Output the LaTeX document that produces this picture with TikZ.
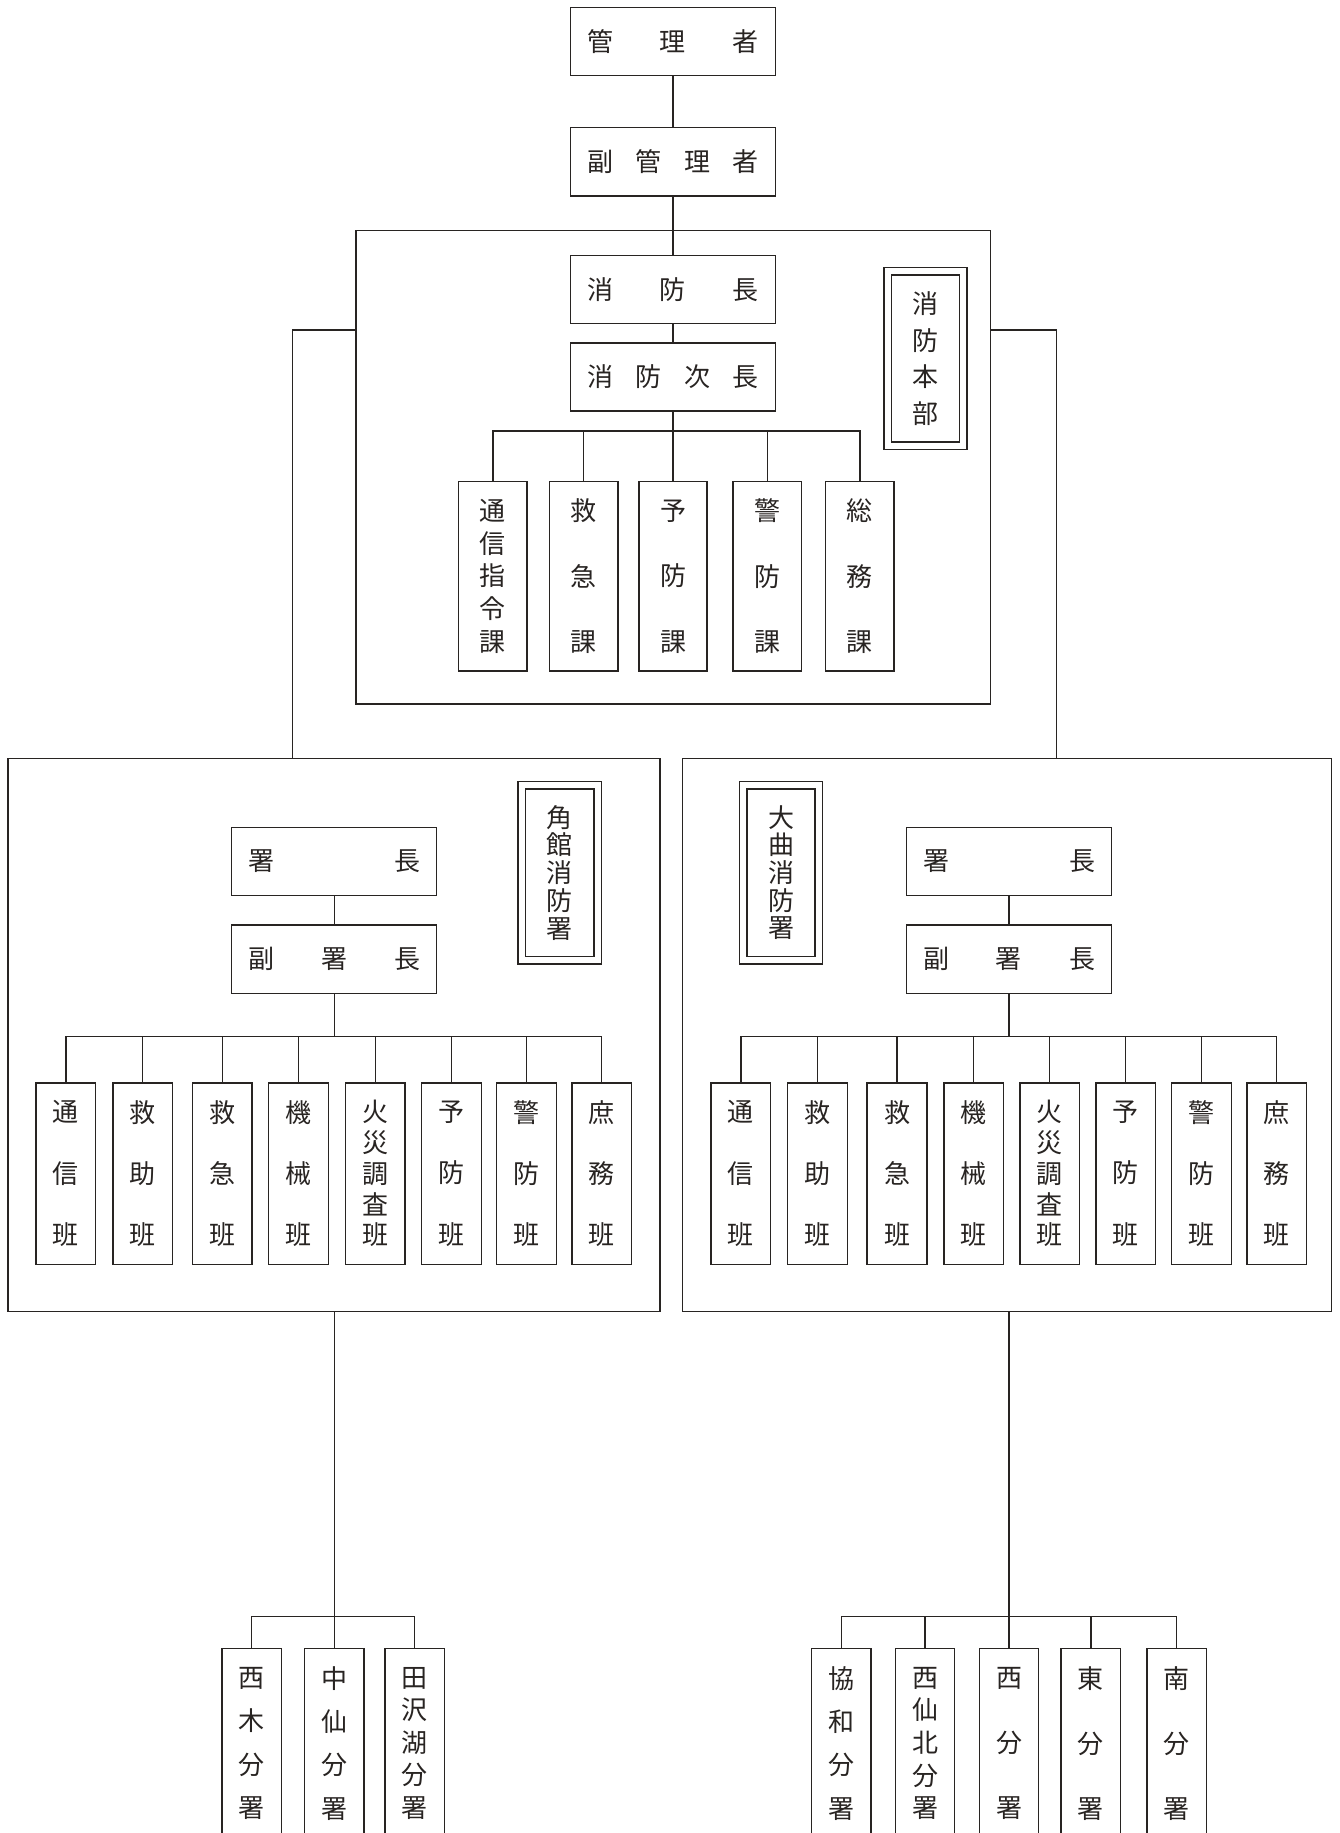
\documentclass[tikz,border=0pt]{standalone}
\usepackage{fontspec}
\setmainfont{Noto Sans CJK JP}
\definecolor{ink}{RGB}{40,36,34}
\def\vt#1#2{\vbox{\baselineskip=#1\lineskiplimit=-1000pt\lineskip=0pt\vtloop#2\relax}}
\def\vtloop#1{\ifx#1\relax\else\hbox{#1}\expandafter\vtloop\fi}
\begin{document}
\begin{tikzpicture}[x=1pt,y=-1pt,line width=1.4pt,color=ink,
  frame/.style={draw,rectangle,inner sep=0pt},
  hbx/.style={draw,rectangle,inner sep=0pt,minimum width=205pt,minimum height=68pt,font=\fontsize{26}{30}\selectfont},
  kabx/.style={draw,rectangle,inner sep=0pt,minimum width=68.2pt,minimum height=189.4pt,font=\fontsize{26}{30}\selectfont},
  hanbx/.style={draw,rectangle,inner sep=0pt,minimum width=59.8pt,minimum height=181.2pt,font=\fontsize{26}{30}\selectfont},
  botbx/.style={draw,rectangle,inner sep=0pt,minimum width=59.5pt,minimum height=189.3pt,font=\fontsize{26}{30}\selectfont},
  lbl/.style={draw,rectangle,double,double distance=6pt,inner sep=0pt,font=\fontsize{26}{30}\selectfont}]
\clip (0,0) rectangle (1339,1833);
\fill[white] (0,0) rectangle (1339,1833);
% top
\node[hbx] (kanri) at (673,41.4) {\hbox to 172pt{管\hfil 理\hfil 者}};
\node[hbx] (fuku) at (673,161.8) {\hbox to 172pt{副\hfil 管\hfil 理\hfil 者}};
\node[frame,minimum width=634.6pt,minimum height=473.3pt] (honbu) at (673.3,467.35) {};
\node[hbx] (chou) at (673,289.5) {\hbox to 172pt{消\hfil 防\hfil 長}};
\node[hbx] (jichou) at (673,376.8) {\hbox to 172pt{消\hfil 防\hfil 次\hfil 長}};
\node[kabx] (k1) at (492.8,576.3) {\vt{32.75pt}{通信指令課}};
\node[kabx] (k2) at (583.7,576.3) {\vt{65.5pt}{救急課}};
\node[kabx] (k3) at (673,576.3) {\vt{65.5pt}{予防課}};
\node[kabx] (k4) at (767.2,576.3) {\vt{65.5pt}{警防課}};
\node[kabx] (k5) at (859.8,576.3) {\vt{65.5pt}{総務課}};
\node[lbl,minimum width=75.8pt,minimum height=174.6pt] (honbulbl) at (925.4,358.4) {\vt{36.5pt}{消防本部}};
\draw (kanri) -- (fuku);
\draw (fuku) -- (chou);
\draw (chou) -- (jichou);
\draw (jichou) -- (k3);
\coordinate (kb) at (0,431.1);
\draw (k1.north) -- (k1.north |- kb) -- (k5.north |- kb) -- (k5.north);
\draw (k2.north) -- (k2.north |- kb);
\draw (k4.north) -- (k4.north |- kb);
% station boxes
\node[frame,minimum width=652pt,minimum height=553pt] (kaku) at (333.8,1035) {};
\node[frame,minimum width=648.5pt,minimum height=553pt] (oma) at (1007,1035) {};
\coordinate (lt) at (292.4,330);
\coordinate (rt) at (1056.5,330);
\draw (honbu.west |- lt) -- (lt) -- (lt |- kaku.north);
\draw (honbu.east |- rt) -- (rt) -- (rt |- oma.north);
% Kakunodate
\node[hbx] (ks1) at (334.2,861.3) {\hbox to 172pt{署\hfil 長}};
\node[hbx,minimum height=68.8pt] (ks2) at (334.2,959.2) {\hbox to 172pt{副\hfil 署\hfil 長}};
\node[lbl,minimum width=76.1pt,minimum height=175.2pt] (kakulbl) at (559.8,872.7) {\vt{27.7pt}{角館消防署}};
\node[hanbx] (ka1) at (65.8,1173.6) {\vt{61.35pt}{通信班}};
\node[hanbx] (ka2) at (142.7,1173.6) {\vt{61.35pt}{救助班}};
\node[hanbx] (ka3) at (222.2,1173.6) {\vt{61.35pt}{救急班}};
\node[hanbx] (ka4) at (298.3,1173.6) {\vt{61.35pt}{機械班}};
\node[hanbx] (ka5) at (375.2,1173.6) {\vt{30.7pt}{火災調査班}};
\node[hanbx] (ka6) at (451.3,1173.6) {\vt{61.35pt}{予防班}};
\node[hanbx] (ka7) at (526.5,1173.6) {\vt{61.35pt}{警防班}};
\node[hanbx] (ka8) at (601.7,1173.6) {\vt{61.35pt}{庶務班}};
\draw (ks1) -- (ks2);
\coordinate (hb) at (0,1036.5);
\draw (ks2.south) -- (ks2.south |- hb);
\draw (ka1.north) -- (ka1.north |- hb) -- (ka8.north |- hb) -- (ka8.north);
\foreach \i in {2,...,7} {\draw (ka\i.north) -- (ka\i.north |- hb);}
% Omagari
\node[hbx] (os1) at (1009,861.3) {\hbox to 172pt{署\hfil 長}};
\node[hbx,minimum height=68.8pt] (os2) at (1009,959.2) {\hbox to 172pt{副\hfil 署\hfil 長}};
\node[lbl,minimum width=75.5pt,minimum height=175.2pt] (omalbl) at (781.1,872.7) {\vt{27.7pt}{大曲消防署}};
\node[hanbx] (oa1) at (740.8,1173.6) {\vt{61.35pt}{通信班}};
\node[hanbx] (oa2) at (817.6,1173.6) {\vt{61.35pt}{救助班}};
\node[hanbx] (oa3) at (897,1173.6) {\vt{61.35pt}{救急班}};
\node[hanbx] (oa4) at (973.7,1173.6) {\vt{61.35pt}{機械班}};
\node[hanbx] (oa5) at (1049.7,1173.6) {\vt{30.7pt}{火災調査班}};
\node[hanbx] (oa6) at (1125.7,1173.6) {\vt{61.35pt}{予防班}};
\node[hanbx] (oa7) at (1201.6,1173.6) {\vt{61.35pt}{警防班}};
\node[hanbx] (oa8) at (1276.7,1173.6) {\vt{61.35pt}{庶務班}};
\draw (os1) -- (os2);
\draw (os2.south) -- (os2.south |- hb);
\draw (oa1.north) -- (oa1.north |- hb) -- (oa8.north |- hb) -- (oa8.north);
\foreach \i in {2,...,7} {\draw (oa\i.north) -- (oa\i.north |- hb);}
% branch offices
\node[botbx] (kb1) at (251.7,1743.35) {\vt{43.4pt}{西木分署}};
\node[botbx] (kb2) at (334.2,1743.35) {\vt{43.4pt}{中仙分署}};
\node[botbx] (kb3) at (414.6,1743.35) {\vt{32.6pt}{田沢湖分署}};
\node[botbx] (ob1) at (841.2,1743.35) {\vt{43.4pt}{協和分署}};
\node[botbx] (ob2) at (925,1743.35) {\vt{32.6pt}{西仙北分署}};
\node[botbx] (ob3) at (1009,1743.35) {\vt{65.1pt}{西分署}};
\node[botbx] (ob4) at (1090.8,1743.35) {\vt{65.1pt}{東分署}};
\node[botbx] (ob5) at (1176.6,1743.35) {\vt{65.1pt}{南分署}};
\coordinate (bb) at (0,1616.7);
\draw (kb2 |- kaku.south) -- (kb2.north);
\draw (kb1.north) -- (kb1.north |- bb) -- (kb3.north |- bb) -- (kb3.north);
\draw (ob3 |- oma.south) -- (ob3.north);
\draw (ob1.north) -- (ob1.north |- bb) -- (ob5.north |- bb) -- (ob5.north);
\draw (ob2.north) -- (ob2.north |- bb);
\draw (ob4.north) -- (ob4.north |- bb);
\end{tikzpicture}
\end{document}
